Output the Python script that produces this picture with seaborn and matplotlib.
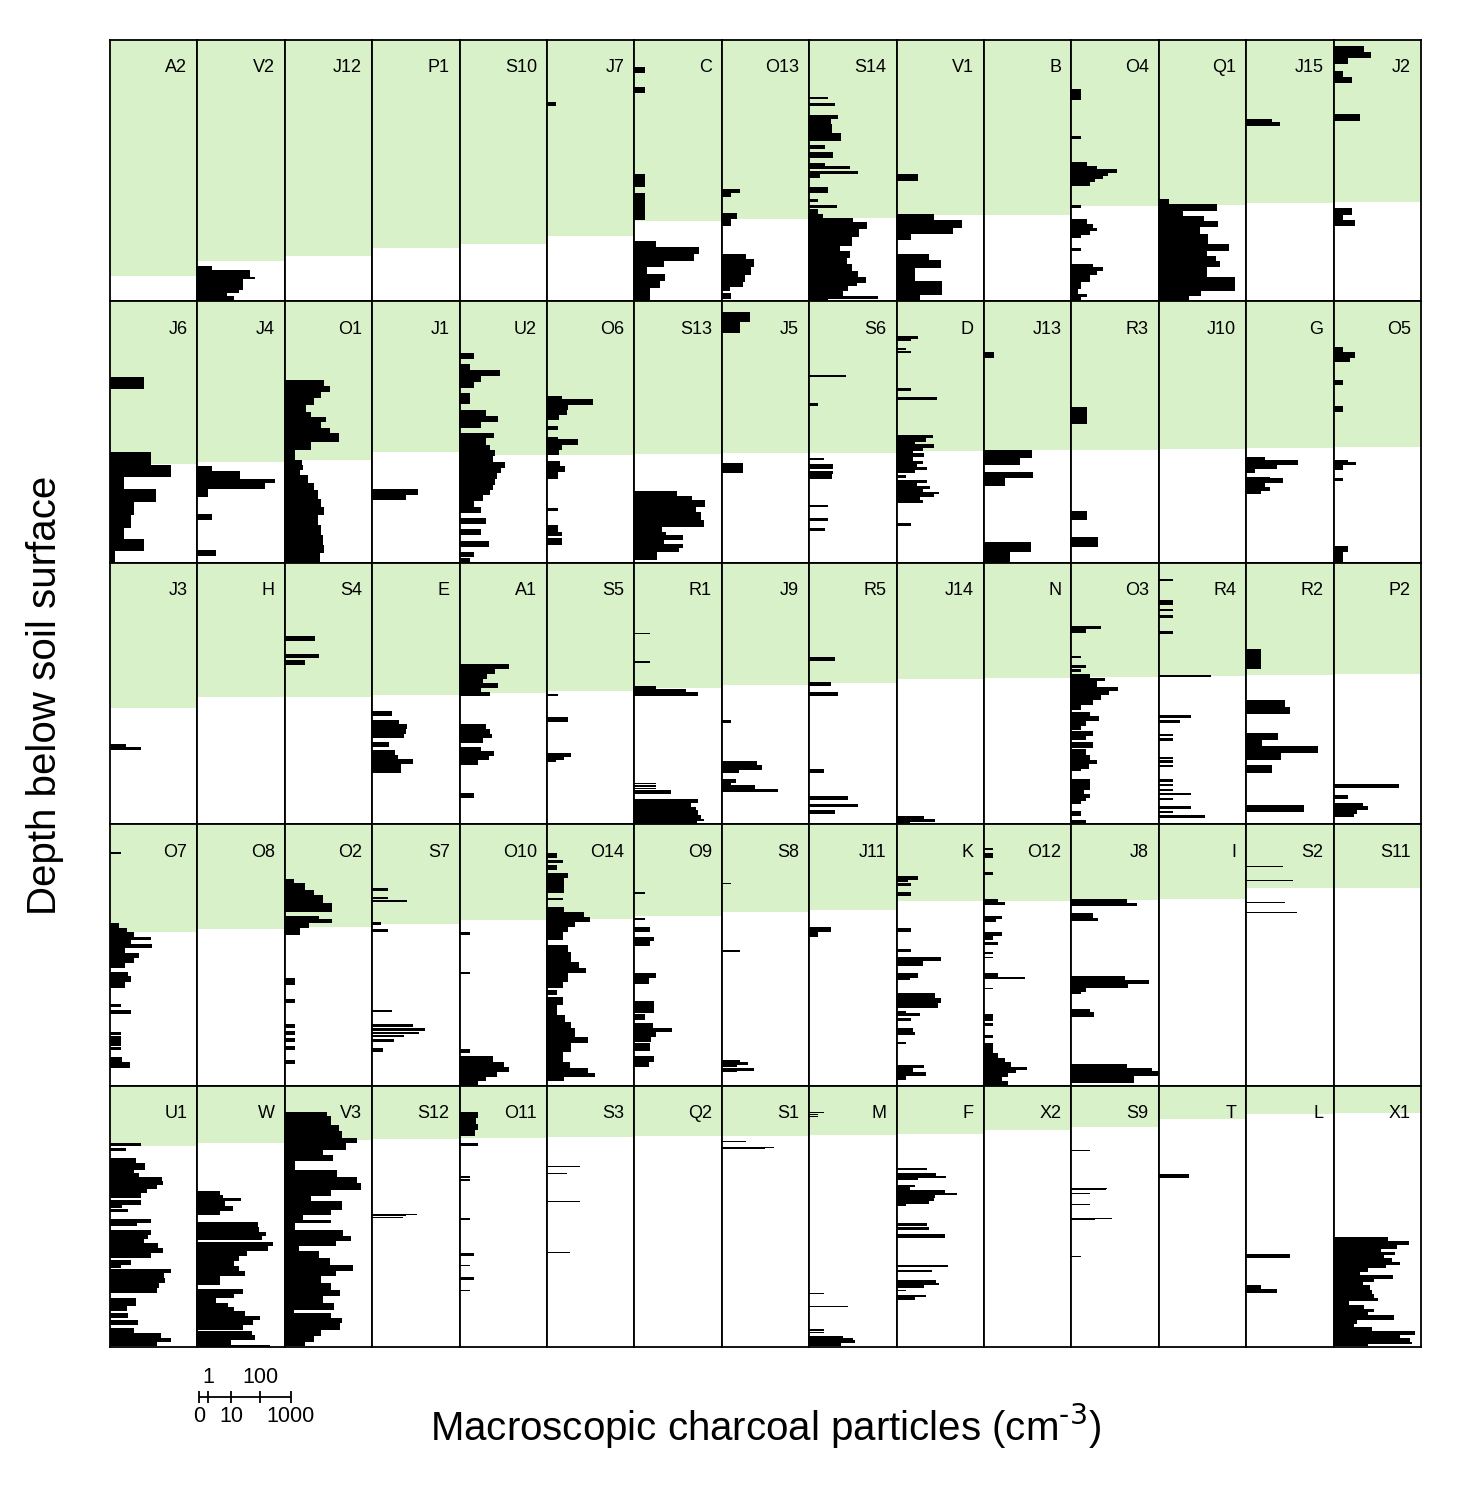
import matplotlib
matplotlib.use("Agg")
import matplotlib.pyplot as plt
import numpy as np
import seaborn as sns

# core names, in panel order, one list per figure row
row1_cores = ["A2", "V2", "J12", "P1", "S10", "J7", "C", "O13", "S14", "V1", "B", "O4", "Q1", "J15", "J2"]
row2_cores = ["J6", "J4", "O1", "J1", "U2", "O6", "S13", "J5", "S6", "D", "J13", "R3", "J10", "G", "O5"]
row3_cores = ["J3", "H", "S4", "E", "A1", "S5", "R1", "J9", "R5", "J14", "N", "O3", "R4", "R2", "P2"]
row4_cores = ["O7", "O8", "O2", "S7", "O10", "O14", "O9", "S8", "J11", "K", "O12", "J8", "I", "S2", "S11"]
row5_cores = ["U1", "W", "V3", "S12", "O11", "S3", "Q2", "S1", "M", "F", "X2", "S9", "T", "L", "X1"]

# base of the green upper unit, % of core depth
row1_green = [90.2, 84.4, 82.5, 79.4, 77.9, 74.9, 69.1, 68.5, 68.1, 66.8, 66.8, 63.4, 63.0, 62.4, 62.0]
row2_green = [62.2, 61.3, 60.7, 57.5, 58.8, 58.8, 58.5, 58.1, 57.9, 57.3, 56.9, 56.9, 56.5, 56.2, 55.6]
row3_green = [55.4, 51.5, 51.3, 50.5, 49.8, 49.0, 47.7, 46.7, 45.9, 44.5, 43.9, 43.5, 43.2, 43.0, 42.7]
row4_green = [41.3, 40.0, 39.4, 38.1, 36.5, 36.2, 35.3, 33.7, 32.8, 29.5, 29.2, 29.0, 28.6, 24.4, 24.4]
row5_green = [23.2, 21.8, 20.7, 20.3, 20.0, 19.6, 19.4, 19.2, 19.0, 18.6, 17.1, 15.8, 12.9, 11.0, 10.3]

# samples per core: (top depth %, bottom depth %, particles per cm3)
core_A2 = []
core_V2 = [(86.4, 87.9, 2), (87.9, 90.5, 50), (90.5, 91.5, 75), (91.5, 95.6, 30), (95.6, 96.6, 21),
           (96.6, 97.9, 8), (97.9, 100, 15)]
core_J12 = []
core_P1 = []
core_S10 = []
core_J7 = [(23.9, 25.2, 1)]
core_C = [(10.2, 12.6, 1.2), (17.9, 20.4, 1.2), (51.3, 56.4, 1.2), (58.7, 68.9, 1.2), (76.8, 79.1, 4),
          (79.1, 81.7, 130), (81.7, 84.7, 85), (84.7, 87, 8), (87, 89.6, 1.5), (89.6, 92.1, 9),
          (92.1, 94.9, 6), (94.9, 100, 2.3)]
core_O13 = [(57, 58.7, 3), (58.7, 60, 1), (66, 68.5, 2.2), (68.5, 71.3, 1), (81.9, 83.8, 5), (83.8, 87, 10),
            (87, 89.8, 8), (89.8, 92.4, 4.5), (92.4, 94.4, 4), (94.4, 96, 0.8), (96.8, 99, 1)]
core_S14 = [(21.7, 22.7, 3), (24, 25.1, 6), (28.6, 30.3, 8), (30.3, 32.2, 4), (32.2, 35.4, 4.5), (35.4, 38.5, 10),
            (40, 41.7, 2.2), (43, 45, 5), (47, 48.2, 2.2), (48.2, 49.2, 21), (50, 51.3, 38), (51.3, 52.6, 1.3),
            (56.4, 58.6, 3), (60.9, 62.1, 1), (63.2, 64.3, 7), (64.7, 66.6, 1), (66.6, 67.9, 1.8),
            (67.9, 69.8, 26), (69.8, 72.3, 75), (72.3, 75.5, 40), (75.5, 78.7, 23), (78.7, 80.6, 9),
            (80.6, 83.2, 21), (83.2, 85.7, 16), (85.7, 88.3, 23), (88.3, 90.8, 38), (90.8, 92.8, 71),
            (92.8, 94, 34), (94, 96, 18), (96, 97.9, 12), (97.9, 99.1, 180), (99.1, 100, 3)]
core_V1 = [(51.3, 53.8, 4), (66.6, 68.9, 16), (68.9, 72, 130), (72, 74.3, 70), (74.3, 76.6, 2), (81.9, 84.2, 10),
           (84.2, 87.3, 26), (87.3, 89.8, 3), (89.8, 92.1, 3), (92.1, 94.7, 30), (94.7, 97.5, 30), (97.5, 100, 5)]
core_B = []
core_O4 = [(18.8, 22.9, 1), (36.6, 37.9, 1), (46.8, 48.1, 2.2), (48.1, 49.4, 6), (49.4, 50.7, 30), (50.7, 51.9, 15),
           (51.9, 53.2, 10), (53.2, 54.5, 5), (54.5, 55.8, 3), (63.2, 64.4, 1), (68.5, 70.4, 2.2), (70.4, 72, 4),
           (72, 73.2, 6), (73.2, 74.5, 3), (74.5, 75.8, 1), (79.4, 80.9, 1), (85.7, 87, 4), (87, 88.3, 10),
           (88.3, 89.8, 6), (89.8, 92.4, 3), (92.4, 95.3, 1), (95.3, 97.2, 0.6), (97.2, 98.5, 2.2), (98.5, 100, 1)]
core_Q1 = [(60.9, 62.8, 1.1), (62.8, 65.3, 80), (65.3, 67.2, 5), (67.2, 69.4, 28), (69.4, 71.7, 85),
           (71.7, 74.3, 21), (74.3, 78.1, 40), (78.1, 80.6, 190), (80.6, 82.5, 36), (82.5, 84.5, 70),
           (84.5, 87, 95), (87, 90.8, 36), (90.8, 96, 300), (96, 97.9, 23), (97.9, 100, 9)]
core_J15 = [(30.3, 31.5, 6), (31.5, 32.8, 12)]
core_J2 = [(2.2, 4.7, 9), (4.7, 6.9, 16), (6.9, 9.2, 2), (11.8, 14, 1), (14, 16.6, 3), (28.3, 30.9, 6),
           (64.3, 66.9, 3), (66.9, 68.9, 1), (68.9, 71.3, 4)]

core_J6 = [(28.8, 33.5, 12), (57.5, 62.4, 21), (62.4, 67.1, 95), (67.1, 71.6, 1.8), (71.6, 76.7, 30),
           (76.7, 81.8, 5), (81.8, 86.6, 4), (86.6, 90.7, 1.8), (90.7, 95.5, 12), (95.5, 99.6, 0.4)]
core_J4 = [(63, 64.8, 2), (64.8, 68, 23), (68, 69.6, 350), (69.6, 71.6, 160), (71.6, 75, 1.2), (81.5, 83.7, 2),
           (95.2, 97.3, 3)]
core_O1 = [(30.1, 32.3, 18), (32.3, 34.6, 28), (34.6, 37.1, 14), (37.1, 39.7, 8), (39.7, 42.2, 4), (42.2, 44.1, 6),
           (44.1, 46.3, 21), (46.3, 48.6, 14), (48.6, 50.5, 28), (50.5, 53.7, 58), (53.7, 56.9, 6),
           (56.9, 60.7, 1.2), (60.7, 62.6, 2.7), (62.6, 64.5, 3), (64.5, 66.5, 2.2), (66.5, 69.6, 4.5),
           (69.6, 72.2, 8), (72.2, 75.4, 11), (75.4, 78.6, 14), (78.6, 81.8, 18), (81.8, 85.6, 11),
           (85.6, 89.4, 14), (89.4, 93.2, 16), (93.2, 96.4, 18), (96.4, 99.6, 13)]
core_J1 = [(71.8, 74.1, 30), (74.1, 76, 12)]
core_U2 = [(19.9, 22.1, 2), (24.1, 26.3, 1.1), (26.3, 28.4, 20), (28.4, 30.7, 4), (30.7, 33, 2), (35.2, 39.4, 1.1),
           (41.6, 43.7, 6.5), (43.7, 46, 17), (46, 48.3, 4), (50.3, 52.4, 12), (52.4, 55, 6), (55, 56.9, 9),
           (56.9, 59.1, 13), (59.1, 61.4, 11), (61.4, 63.6, 30), (63.6, 65.8, 21), (65.8, 68, 15),
           (68, 70.3, 13), (70.3, 72.2, 11), (72.2, 74.1, 9), (74.1, 76.4, 5), (76.4, 78.6, 2), (78.6, 80.9, 4),
           (83, 85.3, 6), (87.2, 89.4, 4), (91.6, 93.9, 8), (95.8, 97.7, 2), (98.1, 99.6, 1.1)]
core_O6 = [(36, 37.3, 2), (37.3, 39.6, 30), (39.6, 41.7, 4), (41.7, 43.6, 3.5), (43.6, 45.5, 1.5), (47.5, 49, 1.2),
           (51.8, 52.7, 1.2), (52.7, 55, 9), (55, 56.9, 2), (56.9, 58.8, 1.5), (60.9, 62.8, 1.7), (62.8, 65.3, 3),
           (65.3, 67.9, 1.2), (79.1, 80.1, 1.2), (85.5, 88.3, 1.2), (88.3, 89.6, 2), (90.6, 93.1, 2)]
core_S13 = [(72.6, 74.4, 23), (74.4, 76, 75), (76, 78.6, 200), (78.6, 80.5, 100), (80.5, 83.7, 150),
            (83.7, 86.2, 180), (86.2, 88.2, 7), (88.2, 89.4, 10), (89.4, 91.3, 36), (91.3, 92.9, 8),
            (92.9, 94.5, 36), (94.5, 96, 28), (96, 99, 4.5)]
core_J5 = [(3.9, 7.8, 7), (7.8, 11.9, 3), (61.7, 65.8, 4)]
core_S6 = [(28.2, 29.1, 15), (39, 39.9, 1), (59.8, 60.8, 2), (62.2, 64.2, 5), (64.9, 66.1, 5), (66.1, 68, 4.5),
           (77.7, 78.8, 3), (83, 84, 3), (86.6, 87.9, 2.2)]
core_D = [(13.3, 14.2, 4), (14.2, 15, 2), (17.7, 18.6, 1), (18.9, 19.8, 2), (33.3, 34.2, 2), (36.5, 37.6, 20),
          (51, 52.3, 14), (52.3, 53.6, 8), (53.6, 54.6, 3), (54.6, 55.9, 16), (55.9, 57.1, 6.5), (57.1, 58.1, 2.5),
          (58.1, 59.4, 7), (59.7, 60.9, 2.5), (60.9, 62.2, 6.5), (62.2, 63.2, 3.5), (63.2, 64.4, 9),
          (64.4, 65.6, 3), (66.5, 67.4, 1), (68.5, 69.6, 9), (69.6, 70.7, 3.5), (70.7, 71.8, 11),
          (71.8, 72.8, 6.5), (72.8, 73.8, 23), (73.8, 74.8, 15), (74.8, 76.1, 5), (76.1, 77.2, 6), (84.9, 86, 2)]
core_J13 = [(19.3, 21.8, 1.1), (56.9, 59.8, 36), (59.8, 62.4, 14), (65.2, 67.7, 40), (67.7, 70.5, 4),
            (92.2, 95.8, 32), (95.8, 99.6, 6)]
core_R3 = [(40.3, 47, 2.2), (80.2, 83.7, 2.2), (90.3, 93.9, 6.5)]
core_J10 = []
core_G = [(59.7, 60.7, 3), (60.7, 62.4, 48), (62.4, 64.2, 9), (64.2, 65.8, 1), (67.1, 67.7, 5), (67.7, 69.4, 15),
          (69.4, 70.9, 3), (70.9, 72.6, 5), (72.6, 73.5, 2)]
core_O5 = [(17.3, 19.3, 1.1), (19.3, 21.8, 4), (21.8, 23.3, 2.5), (30.1, 32, 1), (40, 42.2, 1), (60.7, 61.6, 2),
           (61.6, 62.6, 4.5), (62.6, 64.5, 1), (67.5, 68.7, 1), (93.6, 95.8, 2), (95.8, 99.6, 1)]

core_J3 = [(69.2, 70.4, 2.2), (70.4, 71.7, 9)]
core_H = []
core_S4 = [(28.1, 29.9, 9), (34.7, 36.4, 12), (37.3, 39.2, 3.5)]
core_E = [(56.7, 58.7, 3.5), (60.2, 61.8, 6.5), (61.8, 63.4, 13), (63.4, 65.3, 12), (65.3, 66.9, 10),
          (68.5, 70.4, 2.5), (71.7, 73.6, 4.5), (73.6, 75.1, 6), (75.1, 77.1, 20), (77.1, 78.5, 8), (78.5, 80.4, 8)]
core_A1 = [(38.8, 40.8, 40), (40.8, 42.6, 13), (42.6, 44.3, 7), (44.3, 45.8, 5), (45.8, 47.7, 17), (47.7, 49.4, 4),
           (49.4, 51, 9), (61.8, 63.4, 6), (63.4, 65.3, 9), (65.3, 67, 10), (67, 68.8, 5), (70.4, 72.1, 4),
           (72.1, 73.9, 12), (73.9, 75.5, 8), (75.5, 77.4, 3), (87.9, 89.8, 2)]
core_S5 = [(50.3, 51, 1.2), (59, 61, 4), (72.7, 74.3, 5), (74.3, 75.5, 2.5), (75.5, 76.2, 1)]
core_R1 = [(26.7, 27.3, 2.2), (37.6, 38.5, 2.2), (47.2, 48.2, 4), (48.2, 49.4, 48), (49.4, 51, 115),
           (84.1, 84.8, 4), (85.1, 85.8, 4), (86, 86.7, 4), (87, 88.3, 15), (90.5, 91.7, 120), (91.7, 93.4, 70),
           (93.4, 94.6, 100), (94.6, 95.6, 115), (95.6, 96.6, 120), (96.6, 97.9, 150), (97.9, 98.8, 180),
           (98.8, 99.8, 110)]
core_J9 = [(60, 61.2, 1), (75.9, 77.4, 13), (77.4, 79.1, 20), (79.1, 80.6, 2.7), (82.8, 84.2, 2), (84.2, 85.1, 1),
           (85.1, 86.4, 11), (86.4, 87.6, 65)]
core_R5 = [(36.2, 37.5, 6), (45.7, 47, 4), (49.5, 51, 8), (79, 80.3, 2), (89.3, 90.6, 18), (92.1, 93.6, 38),
           (94.7, 96.2, 6)]
core_J14 = [(96.8, 98.1, 7), (98.1, 99.1, 17), (99.1, 100, 1.8)]
core_N = []
core_O3 = [(24.3, 25.4, 8), (25.4, 26.7, 2), (35.7, 36.6, 1), (39.2, 40.1, 2), (40.5, 41.7, 1), (42.4, 43.9, 3),
           (43.9, 45.2, 11), (45.2, 47.5, 6), (47.5, 49, 32), (49, 50.7, 16), (50.7, 52.6, 8), (52.6, 54.5, 4),
           (54.5, 56.4, 1), (57, 58.7, 3), (58.7, 60.5, 7), (60.5, 62.4, 2), (62.4, 64, 1), (64.3, 66.3, 4),
           (66.3, 67.9, 2), (68.5, 70.7, 4), (71.4, 73.6, 2), (73.6, 75.3, 3), (75.3, 77.1, 6), (77.1, 78.7, 2.7),
           (78.7, 79.6, 1), (82.8, 84.7, 3), (84.7, 87, 3), (87, 88.3, 1.5), (88.3, 89.8, 3), (89.8, 91.1, 2),
           (91.1, 92.4, 1), (94.9, 97, 1), (98.2, 99.8, 2)]
core_R4 = [(6.3, 7, 2), (14.3, 16, 2), (17.5, 18.4, 2), (20, 21.3, 2), (26.2, 27.1, 2), (42.8, 43.6, 51),
           (58.3, 59.2, 10), (60.2, 61.1, 4), (65.3, 66.2, 2), (67.2, 68.1, 2), (74.3, 75.1, 2), (75.5, 76.4, 2),
           (77.4, 78.3, 2), (82.8, 83.7, 2), (84.5, 85.4, 2), (86.4, 87.3, 2), (87.9, 88.8, 10), (89.8, 90.7, 2),
           (93.1, 94, 10), (94.9, 95.8, 2), (96.6, 97.6, 32)]
core_R2 = [(32.8, 40.5, 2), (52.6, 55.1, 17), (55.1, 57.7, 26), (65.1, 67.9, 10), (67.9, 70.2, 2.2),
           (70.2, 72.7, 220), (72.7, 75.5, 13), (77.4, 80.3, 6), (92.5, 95.3, 75)]
core_P2 = [(84.7, 86, 130), (89, 90.5, 2), (91.7, 93, 8), (93, 94.7, 12), (94.7, 96.2, 5), (96.2, 97.2, 3.5)]

core_O7 = [(10.7, 11.5, 1.2), (37.9, 39.6, 1), (39.6, 41.1, 2.5), (41.1, 43, 5), (43, 44.3, 21), (44.3, 45.9, 4),
           (45.9, 47.2, 23), (47.2, 49.4, 2), (49.4, 51.3, 8), (51.3, 53.2, 5), (53.2, 55.1, 2), (56.4, 57.9, 3),
           (57.9, 60.2, 4), (60.2, 62.8, 2), (68.9, 69.8, 1.2), (71.1, 72.7, 4), (79.6, 80.6, 1.2),
           (80.9, 82.2, 1.2), (82.2, 83.4, 1.2), (83.5, 84.7, 1.2), (85.1, 86.4, 1.2), (88.9, 90.8, 1.5),
           (90.8, 93.1, 3.5)]
core_O8 = []
core_O2 = [(21.1, 22.6, 1), (22.6, 25.1, 3.5), (25.1, 27.1, 8), (27.1, 30.3, 17), (30.3, 33.7, 34), (35, 36.2, 12),
           (36.2, 37.9, 34), (37.9, 39.6, 5), (39.6, 42.4, 2.2), (58.7, 61.5, 1.1), (67, 68.5, 1.1),
           (76.6, 78.1, 1.1), (79, 80.6, 1.1), (81.9, 83.4, 1.1), (84.7, 86.4, 1.1), (90.2, 91.7, 1.1)]
core_S7 = [(24.5, 25.4, 2.2), (27.7, 28.6, 2.2), (29, 29.9, 13), (37.6, 38.5, 1), (40.1, 41.1, 2.2), (71.1, 72, 3.5),
           (76.4, 77.4, 21), (78.1, 79.1, 51), (79.4, 80.4, 32), (80.6, 81.5, 10), (82.2, 83.2, 4), (85.7, 87, 1.2)]
core_O10 = [(41.3, 42.4, 1.2), (56.4, 57.3, 1.2), (86, 87.6, 1.2), (88.7, 90.8, 11), (90.8, 92.8, 26),
            (92.8, 94.9, 40), (94.9, 96.6, 16), (96.6, 98.2, 6.5), (98.2, 99.8, 3)]
core_O14 = [(11.1, 13, 1.1), (13.7, 15, 2.2), (15.6, 17.5, 1.1), (18.8, 20.7, 4), (20.7, 26.4, 2.7), (28.1, 29, 2.2),
            (31.5, 33.4, 2.5), (33.4, 35.4, 15), (35.4, 37.3, 25), (37.3, 39.2, 7), (39.2, 41.1, 4),
            (41.1, 44.3, 2.2), (46.2, 48.7, 4), (48.7, 52.6, 5), (52.6, 55.1, 10), (55.1, 57, 17), (57, 60.2, 4),
            (60.2, 62.8, 2.2), (63.4, 65.3, 1.1), (66, 69.2, 2.2), (69.2, 73, 1.1), (73, 75.5, 3), (75.5, 78.1, 5),
            (78.1, 81.3, 7), (81.3, 83.8, 21), (83.8, 87, 5), (87, 90.8, 2.2), (90.8, 93.4, 4.5),
            (93.4, 95.3, 20), (95.3, 96.6, 36), (96.6, 98.2, 2.7)]
core_O9 = [(25.8, 26.7, 1.2), (35.7, 36.8, 1.2), (39.3, 41.1, 2.2), (43, 44.7, 3.5), (44.7, 46.5, 2.2), (57, 59, 4),
           (59, 61.2, 2), (67.6, 72.3, 3.5), (72.7, 74.9, 1.2), (75.9, 78.1, 3), (78.1, 79.4, 16), (79.4, 81.3, 4),
           (81.3, 83.2, 2.5), (83.8, 86.8, 2.2), (88.5, 90.8, 3.5), (90.8, 92.8, 2)]
core_S8 = [(22.3, 23, 1), (48.1, 49, 3), (90.2, 91.1, 3), (91.1, 92.1, 6), (92.1, 93, 2.2), (93.4, 94.4, 10),
           (94.4, 94.9, 2.2)]
core_J11 = [(39.4, 41.1, 4), (41.1, 43, 1)]
core_K = [(20, 21.3, 4), (21.3, 22, 1.4), (22.6, 23.6, 2), (26, 27.3, 2), (39.8, 41.1, 2), (47.7, 49, 2),
          (50.7, 52.3, 28), (52.3, 54.1, 6), (57, 58.7, 4), (58.7, 59.6, 1.8), (64.7, 66.6, 17), (66.6, 68.5, 28),
          (68.5, 70.2, 21), (71.4, 72.3, 1), (72.3, 73.4, 5), (74, 75.3, 2), (77.8, 79.6, 2.5), (79.6, 80.6, 3),
          (83.2, 84.2, 1), (92.1, 93.4, 7), (93.4, 94.7, 2.5), (94.7, 96.2, 8), (96.2, 97.9, 1)]
core_O12 = [(9, 9.8, 1), (11.1, 12, 1), (12.2, 13, 1), (18.1, 19.4, 1), (28.6, 29.9, 1.8), (29.9, 30.9, 4),
            (35, 36.2, 3), (36.2, 37.5, 1.5), (41.1, 42.6, 3), (42.6, 44.3, 1), (45.2, 46.4, 1.8), (49, 49.8, 1),
            (50.7, 51.3, 1), (57, 58.3, 1.8), (58.6, 59.2, 20), (62.5, 63.2, 1), (72.7, 75.3, 1), (76.2, 77.1, 1),
            (80.6, 81.7, 1), (83.6, 87.6, 1), (87.6, 89.6, 1.8), (89.6, 90.8, 4), (90.8, 92.8, 6.5),
            (92.8, 94, 25), (94, 95.3, 10), (95.3, 96.6, 5), (96.6, 98.2, 3), (98.2, 99.8, 5)]
core_J8 = [(28.7, 30, 62), (30, 31.3, 140), (34.1, 35.7, 4), (35.7, 37, 6.5), (57.9, 59.6, 55), (59.6, 61.1, 350),
           (61.1, 62.5, 70), (62.5, 64, 2), (64, 65.1, 1), (70.7, 72, 3), (72, 73.6, 4.5), (91.9, 93.4, 62),
           (93.4, 94.4, 420), (94.4, 96.2, 680), (96.2, 99.1, 105)]
core_I = []
core_S2 = [(16, 16.35, 15), (21.2, 21.6, 32), (29.8, 30.15, 18), (33.6, 33.95, 44)]
core_S11 = []

core_U1 = [(22, 23, 9), (23.9, 25.1, 2.2), (27.7, 29.6, 6), (29.6, 32.2, 13), (32.2, 33.4, 5), (33.4, 35, 8),
           (35, 36.6, 48), (36.6, 37.9, 51), (37.9, 39.6, 34), (39.6, 41.1, 15), (41.1, 43, 9), (43.6, 45.6, 9),
           (45.6, 46.8, 1.5), (47.2, 48.5, 3), (51, 52.6, 20), (52.6, 53.8, 6.5), (55.1, 57, 20), (57, 58.7, 16),
           (58.7, 60.2, 12), (60.2, 62.1, 36), (62.1, 64, 51), (64, 66, 20), (66.6, 68.5, 4), (68.5, 69.8, 1.2),
           (70.2, 71.7, 95), (71.7, 73.6, 58), (73.6, 75.5, 62), (75.5, 77.4, 38), (77.4, 79.4, 34),
           (81.3, 84.2, 6), (84.2, 86.4, 2.5), (87, 88.9, 3), (89.6, 91.5, 7), (92.8, 94.7, 5), (94.7, 96.6, 44),
           (96.6, 98.2, 100), (98.2, 99.8, 32)]
core_W = [(40.5, 41.7, 4.5), (41.7, 43, 6), (43, 44.3, 26), (44.3, 46.2, 7), (46.2, 47.9, 13), (47.9, 49.4, 4.5),
          (52.3, 54.1, 95), (54.1, 56.1, 100), (56.1, 57.4, 170), (57.4, 59, 130), (60, 61.5, 280),
          (61.5, 63.4, 200), (63.4, 65.3, 40), (65.3, 67.2, 21), (67.2, 69.2, 15), (69.2, 71.1, 21),
          (71.1, 73, 34), (73, 76.2, 4.5), (77.8, 79.6, 30), (79.6, 81.3, 15), (81.3, 83.2, 3), (83.2, 84.7, 9),
          (84.7, 86.4, 15), (86.4, 88.3, 34), (88.3, 89.8, 105), (89.8, 91.5, 65), (91.5, 93.4, 30),
          (94, 95.3, 58), (95.3, 97.2, 75), (97.2, 99.1, 11), (99.1, 100, 230)]
core_V3 = [(10.2, 11.8, 23), (11.8, 14.9, 32), (14.9, 17.5, 58), (17.5, 20, 70), (20, 22, 220), (22, 24.5, 95),
           (24.5, 26.4, 17), (26.4, 29, 36), (29, 32.2, 1.2), (32.2, 35, 51), (35, 37.3, 220), (37.3, 39.8, 300),
           (39.8, 42.4, 32), (42.4, 44.3, 6), (44.3, 47.5, 70), (47.5, 49.4, 32), (49.4, 51.3, 3),
           (51.3, 52.6, 32), (52.6, 55.1, 1.2), (55.1, 57.7, 80), (57.7, 59.6, 140), (59.6, 61.5, 44),
           (61.5, 63.4, 2), (63.4, 66, 12), (66, 68.5, 28), (68.5, 71.1, 160), (71.1, 73, 44), (73, 75.5, 14),
           (75.5, 78.1, 30), (78.1, 80.6, 62), (80.6, 83.2, 17), (83.2, 85.7, 40), (85.7, 87, 1), (87, 88.9, 30),
           (88.9, 90.8, 70), (90.8, 93.4, 62), (93.4, 95.9, 14), (95.9, 97.9, 8), (97.9, 99.8, 3.5)]
core_S12 = [(49, 49.35, 28), (49.6, 49.95, 12), (50.2, 50.55, 9)]
core_O11 = [(10.2, 12.5, 3), (12.5, 14.5, 2.5), (14.5, 17, 3), (17, 19.4, 2.2), (22, 23.2, 3), (34.7, 35.4, 1.2),
            (35.8, 36.5, 1.2), (50.7, 51.3, 1.2), (64, 65.3, 2), (68.5, 69.2, 1.2), (73.4, 74.3, 2),
            (78.1, 78.7, 1.2)]
core_S3 = [(30.8, 31.15, 11), (33.3, 33.65, 3.5), (44.2, 44.55, 11), (63.7, 64.05, 4.5)]
core_Q2 = []
core_S1 = [(21.2, 21.55, 5), (23.5, 23.85, 51), (24, 24.35, 25)]
core_M = [(10.1, 10.5, 2), (11, 11.4, 1), (11.5, 11.9, 1), (79.5, 79.9, 2), (84.4, 84.8, 17), (93.3, 93.7, 2),
          (94.3, 94.7, 2), (95.7, 96.6, 12), (96.6, 97.5, 25), (97.5, 98.5, 30), (98.5, 99.8, 10)]
core_F = [(31.7, 32.2, 9), (33.4, 34.5, 18), (34.5, 35.4, 40), (35.4, 36.2, 4), (37.9, 38.9, 3), (38.9, 39.8, 1.8),
          (39.8, 41.1, 36), (41.1, 41.7, 95), (41.7, 43, 17), (43, 44.3, 15), (44.3, 45.2, 10), (45.2, 46.2, 1),
          (52.6, 53.6, 9), (54.1, 55.1, 10), (56.7, 58.3, 36), (68.5, 69.4, 48), (70.4, 71.3, 13),
          (74.3, 75.5, 18), (75.5, 76.4, 23), (76.4, 77.4, 7), (78.1, 78.7, 1), (80, 80.9, 8), (80.9, 81.9, 3)]
core_X2 = []
core_S9 = [(24.7, 25.1, 3), (39.1, 39.5, 14), (39.7, 40.1, 12), (41, 41.4, 3), (45.2, 45.6, 3), (50.6, 51, 20),
           (51.2, 51.6, 5), (65, 65.4, 1)]
core_T = [(33.8, 35.4, 9)]
core_L = [(64.3, 66, 25), (76.2, 77.8, 2), (77.8, 79.4, 9)]
core_X1 = [(57.9, 59.6, 58), (59.6, 61.1, 280), (61.1, 62.4, 115), (62.4, 63.7, 34), (63.7, 64.9, 100),
           (64.9, 66, 44), (66, 67.5, 80), (67.5, 68.8, 140), (68.8, 69.8, 51), (69.8, 71.3, 12), (71.3, 72.6, 6.5),
           (72.6, 73.9, 85), (73.9, 75.1, 20), (75.1, 76.4, 8), (76.4, 78.1, 14), (78.1, 79.6, 17),
           (79.6, 81.3, 20), (81.3, 82.5, 28), (82.5, 84.1, 2.2), (84.1, 85.4, 9), (85.4, 86.6, 20),
           (86.6, 87.9, 12), (87.9, 89.8, 95), (89.8, 91.1, 5), (91.1, 92.4, 3.5), (92.4, 94, 17),
           (94, 95.3, 450), (95.3, 96.6, 140), (96.6, 97.9, 300), (97.9, 98.9, 370), (98.9, 99.8, 12)]

scale_ticks = [0, 1, 10, 100, 1000]

rows = [row1_cores, row2_cores, row3_cores, row4_cores, row5_cores]
greens = [row1_green, row2_green, row3_green, row4_green, row5_green]
profiles = {name: globals()["core_" + name] for row in rows for name in row}

GREEN = "#d8f1c8"
X_MAX = 707  # particle count at the right edge of a panel on the log(1+x) axis


def log1p10(x):
    return np.log10(1 + np.clip(np.asarray(x, dtype=float), 0, None))


def inv_log1p10(y):
    return 10 ** np.asarray(y, dtype=float) - 1


sns.set_style("white")
plt.rcParams["font.family"] = ["Liberation Sans", "DejaVu Sans"]
plt.rcParams["mathtext.default"] = "regular"
plt.rcParams["text.color"] = "black"

fig, axes = plt.subplots(5, 15, figsize=(14.75, 14.99), dpi=100)
fig.subplots_adjust(left=0.0746, right=0.9634, top=0.9733, bottom=0.1014, wspace=0, hspace=0)

for r, (names, green_row) in enumerate(zip(rows, greens)):
    for c, (name, green) in enumerate(zip(names, green_row)):
        ax = axes[r, c]
        ax.set_xscale("function", functions=(log1p10, inv_log1p10))
        ax.set_xlim(0, X_MAX)
        ax.set_ylim(100, 0)
        ax.axhspan(0, green, color=GREEN, lw=0, zorder=0)

        samples = profiles[name]
        if samples:
            top = [s[0] for s in samples]
            thick = [s[1] - s[0] for s in samples]
            conc = [s[2] for s in samples]
            ax.barh(top, conc, height=thick, align="edge", color="black", lw=0, zorder=2)

        ax.text(0.885, 0.893, name, transform=ax.transAxes, ha="right", va="center",
                fontsize=13, zorder=3)
        ax.set_xticks([])
        ax.set_yticks([])
        for sp in ax.spines.values():
            sp.set_color("black")
            sp.set_linewidth(1.3)
            sp.set_visible(True)

fig.text(0.0305, 0.5364, "Depth below soil surface", rotation=90, ha="center", va="center", fontsize=29)
fig.text(0.519, 1 - 1426 / 1499, r"Macroscopic charcoal particles (cm$^{\text{-3}}$)", ha="center",
         va="center", fontsize=29)

# scale bar for the log(1 + x) concentration axis
sax = fig.add_axes([199 / 1475, 1 - 1427 / 1499, 92 / 1475, 60 / 1499])
sax.set_xscale("function", functions=(log1p10, inv_log1p10))
sax.set_xlim(0, 1000)
sax.set_ylim(-1, 1)
sax.axis("off")
sax.hlines(0, 0, 1000, color="black", lw=1.3, clip_on=False)
sax.vlines(scale_ticks, -0.2, 0.2, color="black", lw=1.3, clip_on=False)
for i, t in enumerate(scale_ticks):
    above = i % 2 == 1
    sax.text(t, 0.3 if above else -0.3, str(t), ha="center", va="bottom" if above else "top",
             fontsize=15.5, clip_on=False)

fig.savefig("out.png", dpi=100)
